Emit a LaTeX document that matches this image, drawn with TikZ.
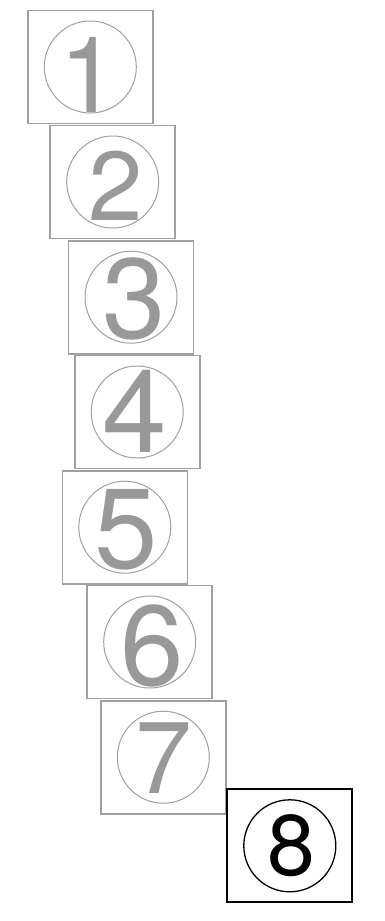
\documentclass[tikz,border=0pt]{standalone}
\usepackage{fontspec}
\setmainfont{TeX Gyre Heros}
\definecolor{boxgray}{HTML}{A0A0A0}
\definecolor{diggray}{HTML}{999999}
\tikzset{
  gbox/.style={draw=boxgray, line width=1.6pt, minimum width=125pt, minimum height=113pt, inner sep=0pt, fill=white},
  gcirc/.style={draw=boxgray, line width=1pt, circle, minimum size=92pt, inner sep=0pt},
  gdig/.style={text=diggray, inner sep=0pt, anchor=base},
  kbox/.style={draw=black, line width=2pt, minimum width=125pt, minimum height=113pt, inner sep=0pt, fill=white},
  kcirc/.style={draw=black, line width=1.3pt, circle, minimum size=92pt, inner sep=0pt},
  kdig/.style={text=black, inner sep=0pt, anchor=base},
}
\newcommand{\dsize}[1]{\fontsize{#1}{#1}\selectfont}
\begin{document}
\begin{tikzpicture}[x=1pt, y=-1pt]
\useasboundingbox (0,0) rectangle (384,921);
% boxes
\node[gbox] (b1) at (90.3,67) {};
\node[gbox] (b2) at (112.7,182) {};
\node[gbox] (b3) at (131,297.2) {};
\node[gbox] (b4) at (137.2,412) {};
\node[gbox] (b5) at (124.8,527.2) {};
\node[gbox] (b6) at (149.7,642) {};
\node[gbox] (b7) at (163.3,757.2) {};
\node[kbox] (b8) at (289.8,845.8) {};
% circles
\node[gcirc] (c1) at (b1.center) {};
\node[gcirc] (c2) at (b2.center) {};
\node[gcirc] (c3) at (b3.center) {};
\node[gcirc] (c4) at (b4.center) {};
\node[gcirc] (c5) at (b5.center) {};
\node[gcirc] (c6) at (b6.center) {};
\node[gcirc] (c7) at (b7.center) {};
\node[kcirc] (c8) at (b8.center) {};
% digits
\node[gdig, font=\dsize{106}] (d1) at (88.5,112.7) {1};
\node[gdig, font=\dsize{98}] (d2) at (116.2,220) {2};
\node[gdig, font=\dsize{114}] (d3) at (133.7,338.5) {3};
\node[gdig, font=\dsize{116}] (d4) at (134.5,452.7) {4};
\node[gdig, font=\dsize{114}] (d5) at (126.3,568.5) {5};
\node[gdig, font=\dsize{114}] (d6) at (152.5,685) {6};
\node[gdig, font=\dsize{102}] (d7) at (164,793) {7};
\node[kdig, font=\dsize{86}] (d8) at (291,875) {8};
\end{tikzpicture}
\end{document}
